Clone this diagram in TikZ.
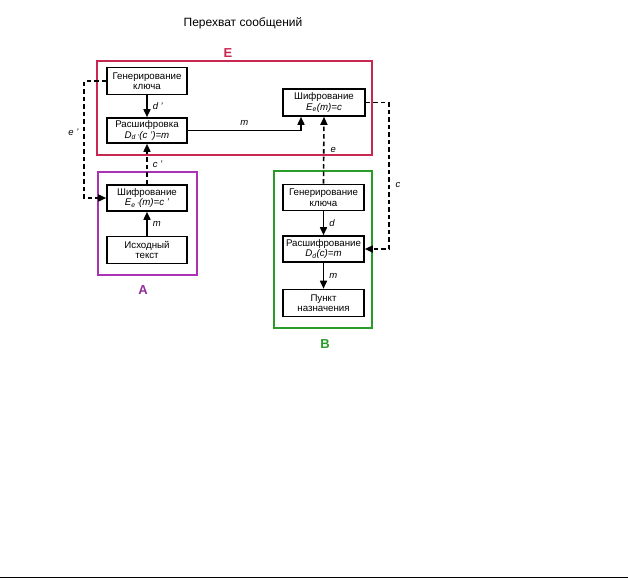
\documentclass[tikz,border=0pt]{standalone}
\usepackage{fontspec}
\setmainfont{Liberation Sans}
\usepackage{tikz}
\usetikzlibrary{arrows.meta}
\definecolor{frameE}{RGB}{200,40,80}
\definecolor{frameA}{RGB}{170,50,180}
\definecolor{frameB}{RGB}{40,155,40}
\colorlet{baseline}{black!30}

\begin{document}
\begin{tikzpicture}[x=1pt,y=-1pt,
    block/.style={draw, line width=1.6pt, minimum width=80pt, minimum height=26pt,
        inner sep=1pt, align=center, font=\fontsize{9.7}{10.5}\selectfont},
    flow/.style={line width=1.6pt, -{Triangle[length=8pt,width=7pt]}},
    spy/.style={flow, dash pattern=on 4.5pt off 3pt},
    tag/.style={font=\fontsize{9.5}{9.5}\selectfont\itshape, inner sep=1pt},
    frame/.style={line width=1.4pt},
    group/.style={font=\fontsize{13}{13}\selectfont\bfseries}]
    \useasboundingbox (0,0) rectangle (628,579);
        \node[font=\fontsize{12}{13}\selectfont] (title) at (243,23) {Перехват сообщений};
        % frames
        \draw[frame, frameE] (97,61) rectangle (372,155);
        \draw[frame, frameA] (98,172) rectangle (197,275);
        \draw[frame, frameB] (274,171) rectangle (372,328);
        \node[group, text=frameE] (labE) at (228,53) {E};
        \node[group, text=frameA!85!black] (labA) at (143,290) {A};
        \node[group, text=frameB] (labB) at (325,344) {B};
        % blocks
        \node[block, minimum height=27pt] (genE) at (147,81) {Генерирование\\ключа};
        \node[block, minimum height=25pt] (decE) at (147,130.5) {Расшифровка\\\textit{D\textsubscript{d '}(c ')=m}};
        \node[block, minimum width=82pt, minimum height=27pt] (encE) at (324,102.5) {Шифрование\\\textit{E\textsubscript{e}(m)=c}};
        \node[block] (encA) at (147,198) {Шифрование\\\textit{E\textsubscript{e '}(m)=c '}};
        \node[block, minimum height=27pt] (srcA) at (147,250) {Исходный\\текст};
        \node[block, minimum width=81pt] (genB) at (323.5,197.5) {Генерирование\\ключа};
        \node[block, minimum width=81pt] (decB) at (323.5,249) {Расшифрование\\\textit{D\textsubscript{d}(c)=m}};
        \node[block, minimum width=81pt, minimum height=27pt] (dstB) at (323.5,303) {Пункт\\назначения};
        % solid connectors
        \draw[flow] (genE) -- node[tag, right=4pt] {d '} (decE);
        \draw[flow] (decE.east) -| node[tag, above=3pt, pos=0.25] {m} ([xshift=-23pt]encE.south);
        \draw[flow] (srcA) -- node[tag, right=4pt] {m} (encA);
        \draw[flow] (genB) -- node[tag, right=4pt] {d} (decB);
        \draw[flow] (decB) -- node[tag, right=4pt] {m} (dstB);
        % dashed connectors
        \draw[spy] (genB.north) -- node[tag, right=5pt, pos=0.5] {e} (encE.south);
        \draw[spy] (encA) -- node[tag, right=4pt, pos=0.5] {c '} (decE);
        \draw[spy] (genE.west) -- ++(-22,0) |- node[tag, left=4pt, pos=0.22] {e '} (encA.west);
        \draw[spy] (encE.east) -- ++(23,0) |- node[tag, right=5pt, pos=0.28] {c} (decB.east);
        \draw[baseline, line width=1.2pt] (0,577.5) -- (628,577.5);
    \end{tikzpicture}
\end{document}
